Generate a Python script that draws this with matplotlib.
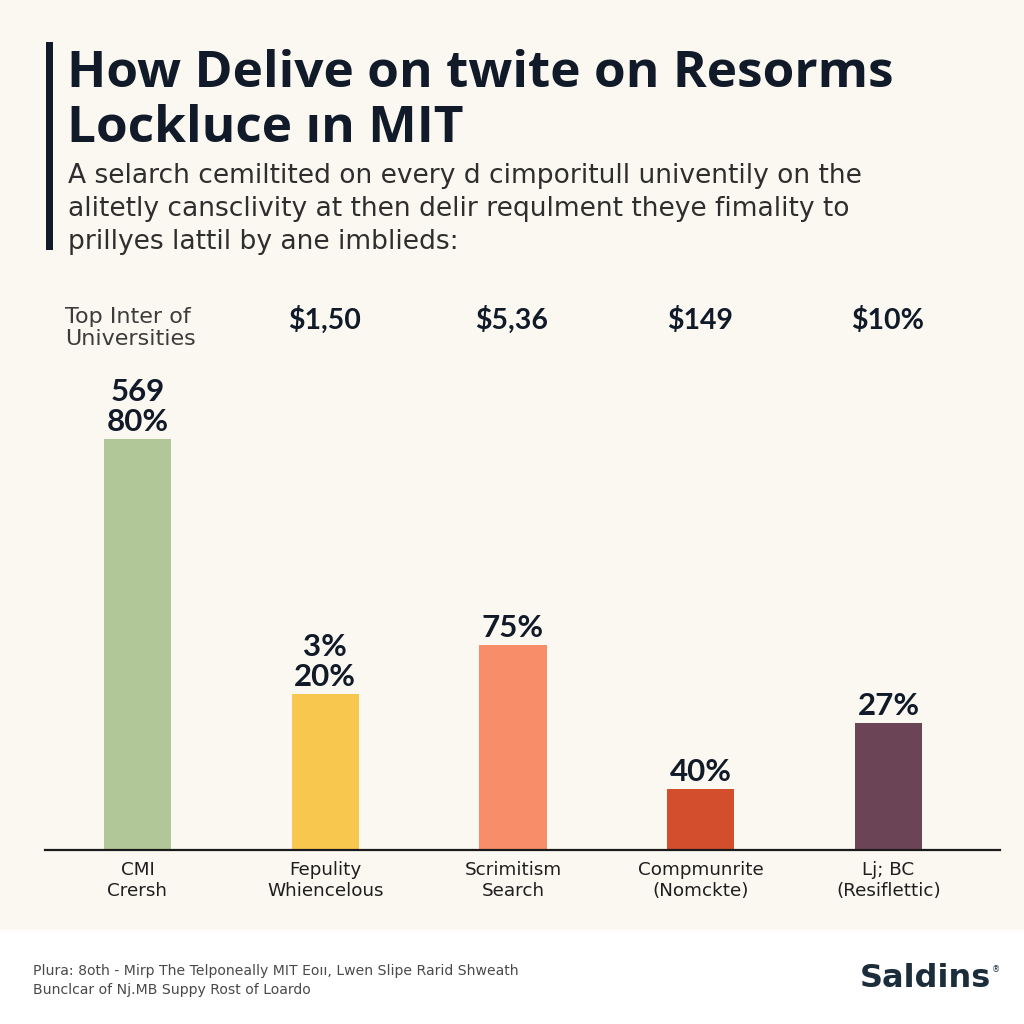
import matplotlib
matplotlib.use("Agg")
import matplotlib.pyplot as plt
from matplotlib.patches import Rectangle

# ---- data ----
categories = ["CMI\nCrersh", "Fepulity\nWhiencelous", "Scrimitism\nSearch",
              "Compmunrite\n(Nomckte)", "Lj; BC\n(Resiflettic)"]
bar_heights = [80.0, 30.4, 39.9, 11.9, 24.7]
bar_labels = ["569\n80%", "3%\n20%", "75%", "40%", "27%"]
header_labels = ["$1,50", "$5,36", "$149", "$10%"]
bar_colors = ["#b2c797", "#f8c84e", "#f88d6a", "#d24e2c", "#6b4556"]

title_lines = ["How Delive on twite on Resorms", "Lockluce \u0131n MIT"]
subtitle_lines = ["A selarch cemiltited on every d cimporitull univentily on the",
                  "alitetly cansclivity at then delir requlment theye fimality to",
                  "prillyes lattil by ane imblieds:"]
header_first = ["Top Inter of", "Universities"]
footer_lines = ["Plura: 8oth - Mirp The Telponeally MIT Eo\u0131\u0131, Lwen Slipe Rarid Shweath",
                "Bunclcar of Nj.MB Suppy Rost of Loardo"]
brand = "Saldins"

BG = "#faf8f1"
NAVY = "#111a28"

fig = plt.figure(figsize=(10.24, 10.24), dpi=100)
fig.patch.set_facecolor(BG)

W = H = 1024.0
def fx(px): return px / W
def fy(py): return 1 - py / H

# footer band
fig.patches.append(Rectangle((0, 0), 1, fy(930), transform=fig.transFigure,
                             facecolor="#ffffff", edgecolor="none", zorder=0))
# left accent bar
fig.patches.append(Rectangle((fx(46), fy(250)), fx(7), fy(42) - fy(250),
                             transform=fig.transFigure, facecolor=NAVY,
                             edgecolor="none", zorder=1))

for txt, base in zip(title_lines, [87, 142]):
    fig.text(fx(67), fy(base), txt, ha="left", va="baseline", fontsize=37,
             fontweight="bold", family="Open Sans", color=NAVY)
for txt, base in zip(subtitle_lines, [183, 216, 249]):
    fig.text(fx(68), fy(base), txt, ha="left", va="baseline", fontsize=19.1,
             family="DejaVu Sans", color="#2e2e2e")

# axes
left_px, right_px, top_px, base_px = 45, 1000, 300, 850
ax = fig.add_axes([fx(left_px), fy(base_px), fx(right_px - left_px),
                   fy(top_px) - fy(base_px)])
ax.set_facecolor("none")
ppu = 411 / 80.0  # pixels per unit
ax.set_ylim(0, (base_px - top_px) / ppu)
spacing = 187.75
c0 = 137.5
ax.set_xlim((left_px - c0) / spacing, (right_px - c0) / spacing)

xs = list(range(len(categories)))
ax.bar(xs, bar_heights, width=0.357, color=bar_colors, zorder=2)
for s in ["top", "right", "left"]:
    ax.spines[s].set_visible(False)
ax.spines["bottom"].set_color("#1a1a1a")
ax.spines["bottom"].set_linewidth(1.6)
ax.set_yticks([])
ax.set_xticks(xs)
ax.set_xticklabels(categories, fontsize=13.2, family="DejaVu Sans", color="#1e1e1e",
                   linespacing=1.2)
ax.tick_params(axis="x", length=0, pad=8)

for x, h, lab in zip(xs, bar_heights, bar_labels):
    ax.annotate(lab, (x, h), xytext=(0, 2), textcoords="offset points",
                ha="center", va="bottom", fontsize=22.5, fontweight="bold",
                family="Lato", color=NAVY, linespacing=1.1)

# header row
for txt, base in zip(header_first, [323, 345]):
    fig.text(fx(65), fy(base), txt, ha="left", va="baseline", fontsize=16,
             family="DejaVu Sans", color="#3c3c3c")
for i, lab in enumerate(header_labels):
    xpx = c0 + spacing * (i + 1) - 1
    fig.text(fx(xpx), fy(329), lab, ha="center", va="baseline", fontsize=20.5,
             fontweight="bold", family="Lato", color=NAVY)

# footer
for txt, base in zip(footer_lines, [975, 994]):
    fig.text(fx(33), fy(base), txt, ha="left", va="baseline", fontsize=10.1,
             family="DejaVu Sans", color="#4a4a4a")
fig.text(fx(860), fy(987), brand, ha="left", va="baseline", fontsize=23,
         fontweight="bold", family="DejaVu Sans", color="#1b2d3a")
fig.text(fx(992), fy(970), "\u00ae", ha="left", va="center", fontsize=6,
         family="DejaVu Sans", color="#1b2d3a")

fig.savefig("out.png", dpi=100, facecolor=BG)
